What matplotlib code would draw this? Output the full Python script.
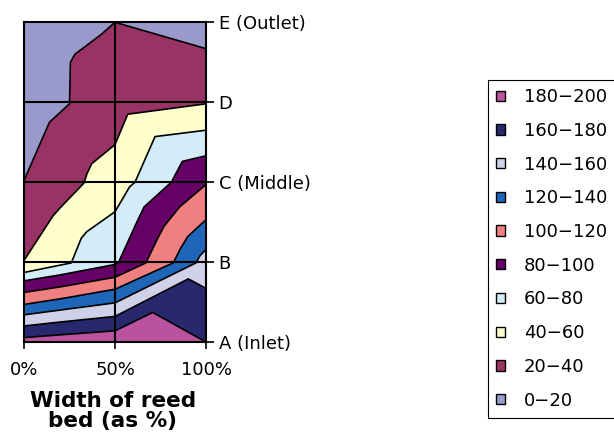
import matplotlib.pyplot as plt
from matplotlib.patches import Patch

# value bands (lowest first) and their fill colours
bands = ['0−20', '20−40', '40−60', '60−80', '80−100',
         '100−120', '120−140', '140−160', '160−180', '180−200']
band_colors = ['#9999CC', '#993366', '#FFFFCC', '#D4ECF7', '#660066',
               '#F08080', '#1F66B8', '#D0D0E8', '#28286E', '#B9529F']

# contour lines between bands: x = width of bed (%), y = position A=0 .. E=4
c20_x = [0, 14, 25, 25.5, 28, 42, 50, 100]
c20_y = [2.02, 2.75, 2.98, 3.5, 3.6, 3.84, 4.0, 3.67]
c40_x = [0, 16, 19.5, 33, 34.5, 37.2, 50, 57, 100]
c40_y = [1.02, 1.58, 1.67, 1.99, 2.1, 2.23, 2.47, 2.85, 2.98]
c60_x = [0, 26, 31.5, 34.5, 50, 58, 61, 72, 100]
c60_y = [0.87, 0.99, 1.3, 1.38, 1.63, 1.94, 2.0, 2.57, 2.65]
c80_x = [0, 20, 50, 52, 62, 66, 81, 87, 100]
c80_y = [0.765, 0.84, 0.97, 1.0, 1.5, 1.69, 2.0, 2.26, 2.33]
c100_x = [0, 20, 50, 67, 73.5, 77, 85.5, 100]
c100_y = [0.62, 0.69, 0.81, 0.99, 1.3, 1.45, 1.69, 1.97]
c120_x = [0, 20, 50, 82, 86, 90, 100]
c120_y = [0.47, 0.54, 0.66, 0.99, 1.17, 1.32, 1.53]
c140_x = [0, 20, 50, 94.5, 96.7, 100]
c140_y = [0.34, 0.40, 0.49, 0.99, 1.08, 1.16]
c160_x = [0, 20, 50, 90.3, 100]
c160_y = [0.2, 0.25, 0.32, 0.79, 0.67]
c180_x = [0, 20, 50, 70.7, 100]
c180_y = [0.055, 0.09, 0.14, 0.37, 0.0]

contours = [(c20_x, c20_y), (c40_x, c40_y), (c60_x, c60_y), (c80_x, c80_y),
            (c100_x, c100_y), (c120_x, c120_y), (c140_x, c140_y),
            (c160_x, c160_y), (c180_x, c180_y)]

x_ticks = [0, 50, 100]
x_labels = ['0%', '50%', '100%']
y_ticks = [0, 1, 2, 3, 4]
y_labels = ['A (Inlet)', 'B', 'C (Middle)', 'D', 'E (Outlet)']

plt.rcParams['font.family'] = ['DejaVu Sans']
fig = plt.figure(figsize=(6.14, 4.38), dpi=100)
ax = fig.add_axes([24 / 614, 96 / 438, 182 / 614, 319.7 / 438])
ax.set_facecolor(band_colors[0])

# paint each band over the previous one (region below/right of the contour)
for (cx, cy), col in zip(contours, band_colors[1:]):
    ax.fill(list(cx) + [100, 0], list(cy) + [0, 0], color=col, lw=0, zorder=1)
for cx, cy in contours:
    ax.plot(cx, cy, color='black', lw=1.2, zorder=2)

for yy in [1, 2, 3]:
    ax.axhline(yy, color='black', lw=1.5, zorder=3)
ax.axvline(50, color='black', lw=1.5, zorder=3)

ax.set_xlim(0, 100)
ax.set_ylim(0, 4)
ax.set_xticks(x_ticks)
ax.set_xticklabels(x_labels)
ax.yaxis.tick_right()
ax.set_yticks(y_ticks)
ax.set_yticklabels(y_labels)
ax.tick_params(axis='x', direction='out', length=5, width=1.2, labelsize=13, pad=9)
ax.tick_params(axis='y', direction='out', length=6, width=1.2, labelsize=13, pad=3)
for s in ax.spines.values():
    s.set_linewidth(1.5)
    s.set_zorder(4)

fig.text(113 / 614, 1 - 411 / 438, 'Width of reed\nbed (as %)', ha='center',
         va='center', fontsize=15.5, fontweight='bold', linespacing=1.05)

handles = [Patch(facecolor=c, edgecolor='black', lw=1) for c in band_colors[::-1]]
leg = fig.legend(handles, bands[::-1], loc='upper left',
                 bbox_to_anchor=(488 / 614, 1 - 80 / 438), fontsize=13,
                 frameon=True, fancybox=False, edgecolor='black', framealpha=1,
                 handlelength=0.5, handleheight=0.5, handletextpad=1.05,
                 labelspacing=0.87, borderpad=0.45, borderaxespad=0)
leg.get_frame().set_linewidth(0.8)

fig.savefig('out.png', dpi=100)
